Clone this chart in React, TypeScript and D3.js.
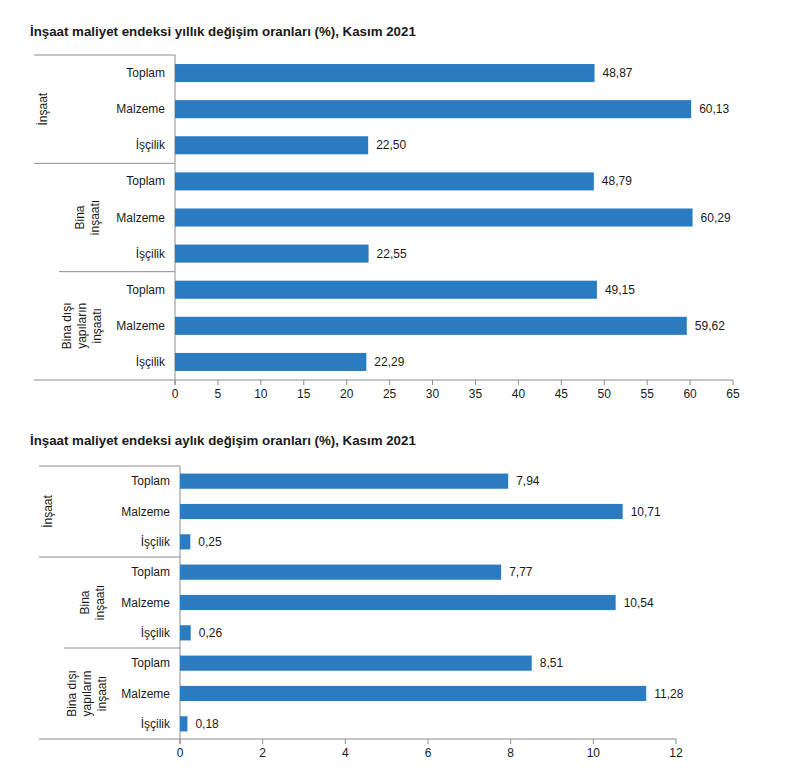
import React from "react";
import * as d3 from "d3";

const categories = ["Toplam", "Malzeme", "İşçilik"];
const groups = [["İnşaat"], ["Bina", "inşaatı"], ["Bina dışı", "yapıların", "inşaatı"]];

const yearlyTitle = "İnşaat maliyet endeksi yıllık değişim oranları (%), Kasım 2021";
const yearlyValues = [
  [48.87, 60.13, 22.5],
  [48.79, 60.29, 22.55],
  [49.15, 59.62, 22.29],
];
const yearlyTicks = [0, 5, 10, 15, 20, 25, 30, 35, 40, 45, 50, 55, 60, 65];

const monthlyTitle = "İnşaat maliyet endeksi aylık değişim oranları (%), Kasım 2021";
const monthlyValues = [
  [7.94, 10.71, 0.25],
  [7.77, 10.54, 0.26],
  [8.51, 11.28, 0.18],
];
const monthlyTicks = [0, 2, 4, 6, 8, 10, 12];

// layout (not data)
const groupLabelOffsets = [-132, -87.5, -93];
const separatorOffsets = [-141, -141, -116];

const BAR = "#2a7bbf";
const LINE = "#8c8c8c";
const TEXT = "#1a1a1a";
const FONT = "Arial, 'Liberation Sans', sans-serif";

type ChartProps = {
  title: string;
  titleY: number;
  values: number[][];
  ticks: number[];
  x0: number;
  x1: number;
  top: number;
  bottom: number;
};

function Chart({ title, titleY, values, ticks, x0, x1, top, bottom }: ChartProps) {
  const x = d3.scaleLinear().domain([0, ticks[ticks.length - 1]]).range([x0, x1]);
  const rows: { g: number; c: number; v: number; key: string }[] = [];
  values.forEach((vs, g) => vs.forEach((v, c) => rows.push({ g, c, v, key: `${g}-${c}` })));
  const y = d3.scaleBand<string>().domain(rows.map((r) => r.key)).range([top, bottom]).paddingInner(0.5).paddingOuter(0.25);
  const groupH = (bottom - top) / groups.length;
  const fmt = (v: number) => v.toFixed(2).replace(".", ",");
  return (
    <g fontFamily={FONT} fill={TEXT}>
      <text x={30} y={titleY} fontSize={13.3} fontWeight="bold">{title}</text>
      {groups.map((_, g) => (
        <line key={"s" + g} x1={x0 + separatorOffsets[g]} x2={x0} y1={top + g * groupH} y2={top + g * groupH} stroke={LINE} strokeWidth={1} />
      ))}
      <line x1={x0 - 141} x2={x1} y1={bottom} y2={bottom} stroke={LINE} strokeWidth={1} />
      <line x1={x0} x2={x0} y1={top} y2={bottom + 5} stroke={LINE} strokeWidth={1} />
      {ticks.map((t) => (
        <g key={"t" + t}>
          <line x1={x(t)} x2={x(t)} y1={bottom} y2={bottom + 5} stroke={LINE} strokeWidth={1} />
          <text x={x(t)} y={bottom + 14} fontSize={12} textAnchor="middle" dominantBaseline="central">{t}</text>
        </g>
      ))}
      {rows.map((r) => (
        <g key={r.key}>
          <rect x={x(0)} y={y(r.key)!} width={x(r.v) - x(0)} height={y.bandwidth()} fill={BAR} />
          <text x={x0 - 10} y={y(r.key)! + y.bandwidth() / 2} fontSize={12} textAnchor="end" dominantBaseline="central">{categories[r.c]}</text>
          <text x={x(r.v) + 8} y={y(r.key)! + y.bandwidth() / 2} fontSize={12} dominantBaseline="central">{fmt(r.v)}</text>
        </g>
      ))}
      {groups.map((lines, g) => {
        const cy = top + (g + 0.5) * groupH;
        const cx = x0 + groupLabelOffsets[g];
        return (
          <text key={"gl" + g} fontSize={12} textAnchor="middle" dominantBaseline="central" transform={`translate(${cx},${cy}) rotate(-90)`}>
            {lines.map((l, i) => (
              <tspan key={i} x={0} y={(i - (lines.length - 1) / 2) * 15}>{l}</tspan>
            ))}
          </text>
        );
      })}
    </g>
  );
}

export default function App() {
  return (
    <svg width={809} height={772} style={{ position: "absolute", left: 0, top: 0, background: "#fff" }}>
      <rect width={809} height={772} fill="#fff" />
      <Chart title={yearlyTitle} titleY={36} values={yearlyValues} ticks={yearlyTicks} x0={175} x1={733} top={55} bottom={380} />
      <Chart title={monthlyTitle} titleY={445} values={monthlyValues} ticks={monthlyTicks} x0={180} x1={676} top={466} bottom={739} />
    </svg>
  );
}
